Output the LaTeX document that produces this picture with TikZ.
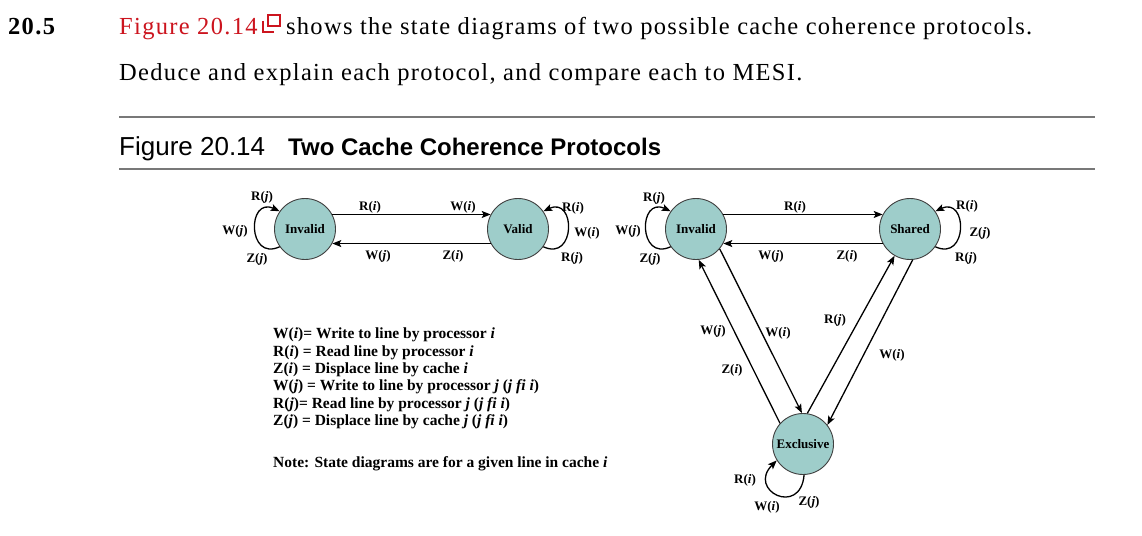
\documentclass[tikz,border=0pt]{standalone}
\usepackage{fontspec}
\setmainfont{Liberation Serif}
\setsansfont{Liberation Sans}
\newfontfamily\bodyfont[LetterSpace=5.4]{Liberation Serif}
\usetikzlibrary{arrows.meta, positioning, calc}
\usepackage{xcolor}
\definecolor{statefill}{RGB}{158,205,202}
\definecolor{linkred}{RGB}{204,20,30}
\definecolor{rulegray}{RGB}{120,120,120}
\newcommand{\ev}[2]{#1(\textit{#2})}

\begin{document}
\begin{tikzpicture}[x=1pt, y=-1pt,
  state/.style={circle, draw=black!75, line width=0.9pt, fill=statefill, minimum size=61pt, inner sep=0pt, font=\fontsize{13}{15}\selectfont\bfseries},
  trans/.style={line width=1.3pt, -{Stealth[length=9pt, width=7pt, inset=2pt]}},
  lbl/.style={font=\fontsize{13}{15}\selectfont\bfseries, inner sep=0pt},
  body/.style={anchor=base west, inner sep=0pt, font=\bodyfont\fontsize{24.5}{28}\selectfont},
  hrule/.style={line width=1.1pt, rulegray}]
  \fill[white] (0,0) rectangle (1142,535);
  \useasboundingbox (0,0) rectangle (1142,535);

  % question text
  \node[body, font=\bodyfont\fontsize{24.5}{28}\selectfont\bfseries] (qnum) at (8,35) {20.5};
  \node[body, text=linkred] (fref) at (119,35) {Figure 20.14};
  \coordinate (icon) at (fref.base east);
  \draw[linkred, line width=1.8pt] ([shift={(10,-20)}]icon) rectangle ([shift={(22,-9)}]icon);
  \draw[linkred, line width=1.8pt] ([shift={(5,-14)}]icon) -- ([shift={(5,-3)}]icon) -- ([shift={(16,-3)}]icon);
  \node[body] (qline1) at ([xshift=28pt]fref.base east) {shows the state diagrams of two possible cache coherence protocols.};
  \node[body] (qline2) at (119,80) {Deduce and explain each protocol, and compare each to MESI.};

  \draw[hrule] (119,117) -- (1095,117);
  \node[anchor=base west, inner sep=0pt, font=\sffamily\fontsize{26}{30}\selectfont] (ftitle) at (119,155) {Figure 20.14};
  \node[anchor=base west, inner sep=0pt, font=\sffamily\bfseries\fontsize{24}{28}\selectfont] (fname) at (288,155) {Two Cache Coherence Protocols};
  \draw[hrule] (119,169) -- (1095,169);

  % Invalid / Valid protocol
  \node[state] (inv1) at (305,229) {Invalid};
  \node[state] (val1) at (518,229) {Valid};
  \draw[trans] (inv1.28) -- (val1.152);
  \draw[trans] (val1.-152) -- (inv1.-28);
  \draw[trans] (inv1.-145) to[out=205, in=155, looseness=2.6] (inv1.145);
  \draw[trans] (val1.-35) to[out=-25, in=25, looseness=2.6] (val1.35);
  \node[lbl] (rj1) at (262,197) {\ev{R}{j}};
  \node[lbl] (wj1) at (235,231) {\ev{W}{j}};
  \node[lbl] (zj1) at (257,259) {\ev{Z}{j}};
  \node[lbl] (ri1) at (370,207) {\ev{R}{i}};
  \node[lbl] (wi1) at (463,207) {\ev{W}{i}};
  \node[lbl] (wj1b) at (378,256) {\ev{W}{j}};
  \node[lbl] (zi1) at (453,256) {\ev{Z}{i}};
  \node[lbl] (ri1b) at (573,208) {\ev{R}{i}};
  \node[lbl] (wi1b) at (587,233) {\ev{W}{i}};
  \node[lbl] (rj1b) at (572,258) {\ev{R}{j}};

  % key
  \node[anchor=north west, align=left, inner sep=0pt, font=\fontsize{15.5}{17.3}\selectfont\bfseries] (key) at (273,328)
    {\ev{W}{i}= Write to line by processor \textit{i}\\
     \ev{R}{i} = Read line by processor \textit{i}\\
     \ev{Z}{i} = Displace line by cache \textit{i}\\
     \ev{W}{j} = Write to line by processor \textit{j} (\textit{j fi i})\\
     \ev{R}{j}= Read line by processor \textit{j} (\textit{j fi i})\\
     \ev{Z}{j} = Displace line by cache \textit{j} (\textit{j fi i})};
  \node[anchor=base west, inner sep=0pt, font=\fontsize{15.5}{17}\selectfont\bfseries] (note) at (273,467)
    {Note: State diagrams are for a given line in cache \textit{i}};

  % Invalid / Shared / Exclusive protocol
  \node[state] (inv2) at (696,229) {Invalid};
  \node[state] (shr) at (910,229) {Shared};
  \node[state] (exc) at (803,444) {Exclusive};
  \draw[trans] (inv2.28) -- (shr.152);
  \draw[trans] (shr.-152) -- (inv2.-28);
  \draw[trans] (inv2.-145) to[out=205, in=155, looseness=2.6] (inv2.145);
  \draw[trans] (shr.-35) to[out=-25, in=25, looseness=2.6] (shr.35);
  \draw[trans] (exc.138) -- (inv2.-85);
  \draw[trans] (inv2.-40) -- (exc.92);
  \draw[trans] (exc.82) -- (shr.-120);
  \draw[trans] (shr.-85) -- (exc.38);
  \draw[trans] (exc.-88) to[out=-95, in=-135, looseness=3.5] (exc.-148);
  \node[lbl] (rj2) at (654,198) {\ev{R}{j}};
  \node[lbl] (wj2) at (628,231) {\ev{W}{j}};
  \node[lbl] (zj2) at (650,259) {\ev{Z}{j}};
  \node[lbl] (ri2) at (795,207) {\ev{R}{i}};
  \node[lbl] (wj2b) at (771,256) {\ev{W}{j}};
  \node[lbl] (zi2) at (847,256) {\ev{Z}{i}};
  \node[lbl] (ri2b) at (967,206) {\ev{R}{i}};
  \node[lbl] (zj2b) at (980,233) {\ev{Z}{j}};
  \node[lbl] (rj2b) at (966,258) {\ev{R}{j}};
  \node[lbl] (wj2c) at (713,331) {\ev{W}{j}};
  \node[lbl] (zi2b) at (732,370) {\ev{Z}{i}};
  \node[lbl] (wi2) at (778,333) {\ev{W}{i}};
  \node[lbl] (rj2c) at (835,320) {\ev{R}{j}};
  \node[lbl] (wi2b) at (892,355) {\ev{W}{i}};
  \node[lbl] (ri2c) at (745,480) {\ev{R}{i}};
  \node[lbl] (wi2c) at (767,507) {\ev{W}{i}};
  \node[lbl] (zj2c) at (809,502) {\ev{Z}{j}};
\end{tikzpicture}
\end{document}
